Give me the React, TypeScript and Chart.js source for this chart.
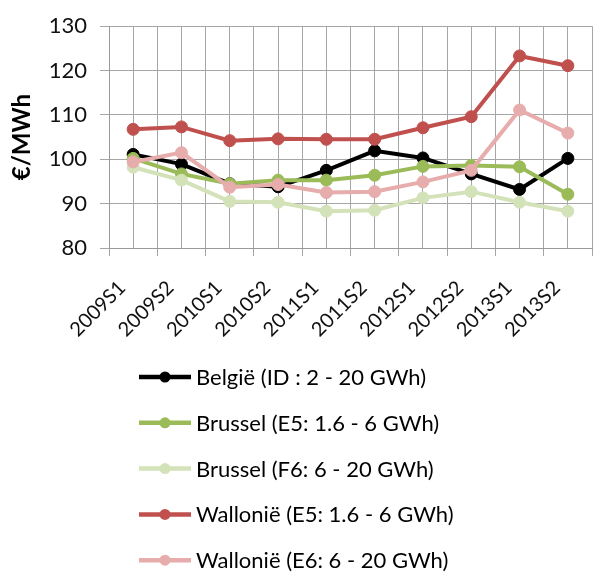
import React, { useEffect, useRef } from "react";
import { Chart, registerables } from "chart.js";

Chart.register(...registerables);

const categories = ["2009S1", "2009S2", "2010S1", "2010S2", "2011S1", "2011S2", "2012S1", "2012S2", "2013S1", "2013S2"];
const belgie = [101.1, 98.9, 94.5, 93.8, 97.5, 101.9, 100.3, 96.7, 93.2, 100.2];
const brusselE5 = [100.2, 96.7, 94.5, 95.3, 95.3, 96.4, 98.4, 98.6, 98.3, 92.1];
const brusselF6 = [98.2, 95.3, 90.5, 90.3, 88.3, 88.5, 91.3, 92.7, 90.3, 88.3];
const wallonieE5 = [106.75, 107.3, 104.2, 104.6, 104.5, 104.5, 107.1, 109.6, 123.3, 121.1];
const wallonieE6 = [99.4, 101.5, 93.7, 94.3, 92.5, 92.7, 94.9, 97.5, 111.1, 105.9];
const seriesNames = [
  "België (ID : 2 - 20 GWh)",
  "Brussel (E5: 1.6 - 6 GWh)",
  "Brussel (F6: 6 - 20 GWh)",
  "Wallonië (E5: 1.6 - 6 GWh)",
  "Wallonië (E6: 6 - 20 GWh)",
];
const seriesColors = ["#000000", "#9BBB59", "#D3E2B8", "#C0504D", "#E6ADAC"];
const yTicks = [80, 90, 100, 110, 120, 130];

const FONT = "Lato, 'Open Sans', sans-serif";

const legendPlugin = {
  id: "customLegend",
  afterDraw(chart: any) {
    const ctx = chart.ctx;
    ctx.save();
    chart.data.datasets.forEach((ds: any, i: number) => {
      const y = 377 + i * 45.8;
      ctx.strokeStyle = ds.borderColor;
      ctx.lineWidth = 4.5;
      ctx.beginPath();
      ctx.moveTo(139, y);
      ctx.lineTo(191, y);
      ctx.stroke();
      ctx.fillStyle = ds.borderColor;
      ctx.beginPath();
      ctx.arc(165, y, 5.5, 0, Math.PI * 2);
      ctx.fill();
      ctx.fillStyle = "#000";
      ctx.font = `22px ${FONT}`;
      ctx.textAlign = "left";
      ctx.textBaseline = "middle";
      ctx.fillText(ds.label, 196, y + 1);
    });
    ctx.restore();
  },
};

export default function App() {
  const ref = useRef<HTMLCanvasElement>(null);
  useEffect(() => {
    document.body.style.margin = "0";
    const allSeries = [belgie, brusselE5, brusselF6, wallonieE5, wallonieE6];
    const chart = new Chart(ref.current!, {
      type: "line",
      data: {
        datasets: allSeries.map((s, i) => ({
          label: seriesNames[i],
          data: s.map((v, j) => ({ x: j, y: v })),
          order: allSeries.length - i,
          borderColor: seriesColors[i],
          backgroundColor: seriesColors[i],
          pointBackgroundColor: seriesColors[i],
          pointBorderColor: seriesColors[i],
          borderWidth: 4,
          pointRadius: 6,
          pointBorderWidth: 1,
          tension: 0,
        })),
      },
      options: {
        responsive: false,
        animation: false,
        layout: { autoPadding: false, padding: { top: 24, right: 3, bottom: 225, left: 0 } },
        plugins: { legend: { display: false }, tooltip: { enabled: false } },
        scales: {
          x: {
            type: "linear",
            min: -0.5,
            max: 9.5,
            afterBuildTicks: (scale: any) => {
              const t = [];
              for (let v = -0.5; v <= 9.5001; v += 0.5) t.push({ value: v });
              scale.ticks = t;
            },
            afterFit: (scale: any) => {
              scale.height = 100;
              scale.paddingLeft = 0;
              scale.paddingRight = 0;
            },
            grid: {
              color: "#A6A6A6",
              lineWidth: 1,
              tickLength: 8,
              tickColor: (c: any) => (c.tick && Math.abs(c.tick.value % 1) > 0.01 ? "#A6A6A6" : "rgba(0,0,0,0)"),
            },
            border: { color: "#999999", width: 1 },
            ticks: {
              autoSkip: false,
              minRotation: 45,
              maxRotation: 45,
              padding: 20,
              labelOffset: -11,
              color: "#111",
              font: { family: FONT, size: 20 },
              callback: (v: any) => {
                const n = Number(v);
                return Math.abs(n - Math.round(n)) < 0.01 ? categories[Math.round(n)] ?? "" : "";
              },
            },
          },
          y: {
            min: 80,
            max: 130,
            afterBuildTicks: (scale: any) => {
              scale.ticks = yTicks.map((v) => ({ value: v }));
            },
            afterFit: (scale: any) => {
              scale.width = 109;
            },
            grid: { color: "#A6A6A6", lineWidth: 1, tickLength: 9, tickColor: "#A6A6A6" },
            border: { color: "#999999", width: 1 },
            ticks: {
              padding: 13,
              color: "#111",
              font: { family: FONT, size: 22 },
            },
            title: {
              display: true,
              text: "€/MWh",
              color: "#000",
              font: { family: FONT, size: 24, weight: "bold" },
              padding: { top: 8, bottom: 4 },
            },
          },
        },
      },
      plugins: [legendPlugin],
    });
    return () => chart.destroy();
  }, []);
  return <canvas ref={ref} width={595} height={573} style={{ display: "block" }} />;
}
